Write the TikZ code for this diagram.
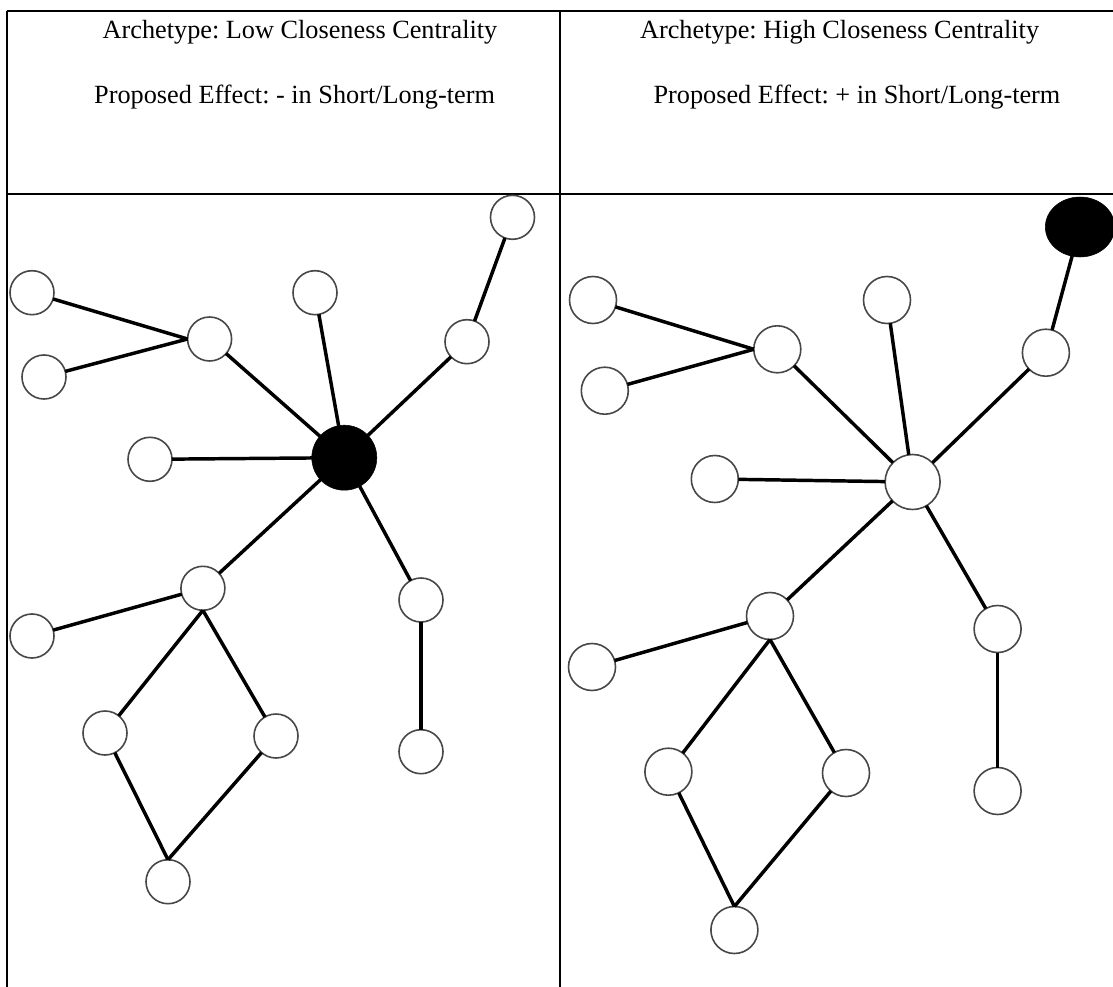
\documentclass[tikz,border=0pt]{standalone}
\usepackage{fontspec}
\setmainfont{Liberation Serif}
\usetikzlibrary{shapes.geometric}
\frenchspacing
\tikzset{
  nd/.style={circle, draw=black!72, line width=1.2pt, fill=white, inner sep=0pt, outer sep=0pt, minimum size=33pt},
  ndr/.style={nd, minimum size=35.25pt},
  hubblack/.style={circle, draw=black, fill=black, inner sep=0pt, outer sep=0pt, minimum size=48.75pt},
  hubwhite/.style={nd, minimum size=41.25pt},
  tipblack/.style={ellipse, draw=black, fill=black, inner sep=0pt, outer sep=0pt, minimum width=52pt, minimum height=45pt},
  link/.style={line width=2.6pt, black},
  rule/.style={line width=1.5pt, black},
  lbl/.style={font=\fontsize{19.7}{23}\selectfont, anchor=base, inner sep=0pt}
}
\begin{document}
\begin{tikzpicture}[x=0.75pt,y=-0.75pt]
\useasboundingbox (0,0) rectangle (1113,987);
\clip (0,0) rectangle (1113,987);
% table
\draw[rule] (6.5,10.7) -- (1125,10.7);
\draw[rule] (6.5,194.5) -- (1125,194.5);
\draw[rule] (6.5,10.7) -- (6.5,1000);
\draw[rule] (560,10.7) -- (560,1000);
% header texts
\node[lbl] (t1) at (300,38.6) {Archetype: Low Closeness Centrality};
\node[lbl] (t2) at (294.6,103.6) {Proposed Effect: - in Short/Long-term};
\node[lbl] (t3) at (839.6,38.6) {Archetype: High Closeness Centrality};
\node[lbl] (t4) at (857,103.6) {Proposed Effect: + in Short/Long-term};
% left graph
\node[nd] (tr1) at (512.5,217.3) {};
\node[nd] (a1) at (32,292.7) {};
\node[nd] (b1) at (44,377) {};
\node[nd] (c1) at (209.6,339) {};
\node[nd] (d1) at (315,292.7) {};
\node[nd] (e1) at (467,341.7) {};
\node[hubblack] (x1) at (344.3,457.7) {};
\node[nd] (f1) at (150,459.3) {};
\node[nd] (g1) at (202.9,588.3) {};
\node[nd] (h1) at (32,636) {};
\node[nd] (i1) at (421,600) {};
\node[nd] (j1) at (421,751.7) {};
\node[nd] (k1) at (105,733) {};
\node[nd] (l1) at (276,736) {};
\node[nd] (m1) at (168,881.7) {};
\draw[link] (a1) -- (c1.west);
\draw[link] (b1) -- (c1.west);
\draw[link] (c1) -- (x1);
\draw[link] (d1) -- (x1);
\draw[link] (e1) -- (x1);
\draw[link] (tr1) -- (e1);
\draw[link] (f1) -- (x1);
\draw[link] (g1) -- (x1);
\draw[link] (i1) -- (x1);
\draw[link] (h1) -- (g1);
\draw[link] (k1) -- (g1.south);
\draw[link] (l1) -- (g1.south);
\draw[link] (k1) -- (m1.north);
\draw[link] (l1) -- (m1.north);
\draw[link] (i1) -- (j1);
% right graph
\node[tipblack] (tr2) at (1080,227) {};
\node[ndr] (a2) at (593,300) {};
\node[ndr] (b2) at (604.8,390.7) {};
\node[ndr] (c2) at (777.3,349.3) {};
\node[ndr] (d2) at (887,300) {};
\node[ndr] (e2) at (1045.9,352.7) {};
\node[hubwhite] (x2) at (912.6,482) {};
\node[ndr] (f2) at (714.8,479) {};
\node[ndr] (g2) at (770,616) {};
\node[ndr] (h2) at (592,667) {};
\node[ndr] (i2) at (997.6,629) {};
\node[ndr] (j2) at (997.6,791) {};
\node[ndr] (k2) at (668.4,771.7) {};
\node[ndr] (l2) at (846,773) {};
\node[ndr] (m2) at (734.4,930) {};
\draw[link] (a2) -- (c2.west);
\draw[link] (b2) -- (c2.west);
\draw[link] (c2) -- (x2);
\draw[link] (d2) -- (x2);
\draw[link] (e2) -- (x2);
\draw[link] (tr2) -- (e2);
\draw[link] (f2) -- (x2);
\draw[link] (g2) -- (x2);
\draw[link] (i2) -- (x2);
\draw[link] (h2) -- (g2);
\draw[link] (k2) -- (g2.south);
\draw[link] (l2) -- (g2.south);
\draw[link] (k2) -- (m2.north);
\draw[link] (l2) -- (m2.north);
\draw[link] (i2) -- (j2);
\end{tikzpicture}
\end{document}
